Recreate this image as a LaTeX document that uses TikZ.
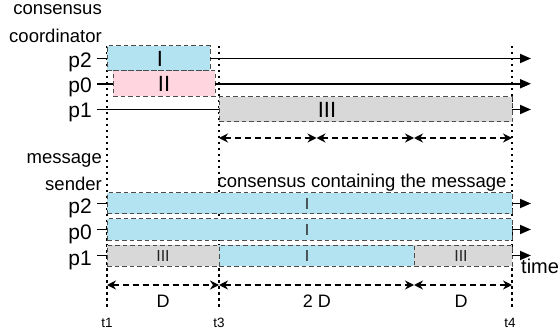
\documentclass[tikz,border=0pt]{standalone}
\usepackage{fontspec}
\setmainfont{Liberation Sans}
\usetikzlibrary{arrows.meta}
\definecolor{cblue}{HTML}{B3E3F1}
\definecolor{cpink}{HTML}{FFD5DF}
\definecolor{cgray}{HTML}{D8D8D8}
\begin{document}
\begin{tikzpicture}[x=1pt,y=-1pt,
  bx/.style={draw=black!70, dash pattern=on 4.5pt off 3pt, line width=1pt, inner sep=0pt, outer sep=0pt, anchor=north west},
  tline/.style={line width=1.8pt, -{Triangle[length=11pt,width=9pt]}},
  plainline/.style={line width=1.8pt},
  dimline/.style={line width=1.6pt, dash pattern=on 6pt off 4pt, {Stealth[length=9pt,width=9pt]}-{Stealth[length=9pt,width=9pt]}},
  tmark/.style={line width=2pt, dash pattern=on 2.5pt off 3.5pt},
  txt/.style={font=\fontsize{18.5}{20}\selectfont, inner sep=0pt},
  plab/.style={font=\fontsize{21}{22}\selectfont, inner sep=0pt, anchor=base east},
  biglab/.style={font=\fontsize{22}{24}\selectfont, inner sep=0pt},
  smalllab/.style={font=\fontsize{16}{16}\selectfont, inner sep=0pt, text=black!85},
  dlab/.style={font=\fontsize{18}{18}\selectfont, inner sep=0pt, anchor=base},
  tlab/.style={font=\fontsize{13.5}{14}\selectfont, inner sep=0pt, anchor=base}
]
\useasboundingbox (0,0) rectangle (560,334);
\coordinate (s) at (97,0);
\coordinate (e) at (531,0);

% time marks (dotted verticals)
\coordinate (t1a) at (107,46); \coordinate (t1b) at (107,308);
\coordinate (t3a) at (219,46); \coordinate (t3b) at (219,308);
\coordinate (t4a) at (512,46); \coordinate (t4b) at (512,308);
\draw[tmark] (t1a) -- (t1b);
\draw[tmark] (t3a) -- (t3b);
\draw[tmark] (t4a) -- (t4b);

% header texts
\node[txt, anchor=base east] (h1) at (102,15) {consensus};
\node[txt, anchor=base east] (h2) at (102,43) {coordinator};
\node[txt, anchor=base east] (h3) at (102,164) {message};
\node[txt, anchor=base east] (h4) at (102,190) {sender};
\node[txt, anchor=base] (h5) at (362,188) {consensus containing the message};

% top section boxes
\node[bx, fill=cblue, minimum width=103pt, minimum height=25pt] (bI) at (107,46) {};
\node[bx, fill=cpink, minimum width=102pt, minimum height=25.5pt] (bII) at (113,71) {};
\node[bx, fill=cgray, minimum width=293pt, minimum height=25pt] (bIII) at (219,97) {};
\node[biglab] (lI) at (160,58.5) {I};
\node[biglab] (lII) at (164,84) {II};
\node[biglab] (lIII) at (327,109.5) {III};

% top section lines
\draw[plainline] (bI.west -| s) -- (bI.west);
\draw[tline] (bI.east) -- (bI.east -| e);
\draw[plainline] (bII.west -| s) -- (bII.west);
\draw[tline] (bII.east) -- (bII.east -| e);
\draw[plainline] (bIII.west -| s) -- (bIII.west);
\draw[tline] (bIII.east) -- (bIII.east -| e);

\node[plab] (p2a) at (92,68) {p2};
\node[plab] (p0a) at (92,92.5) {p0};
\node[plab] (p1a) at (92,117.5) {p1};

% top dimension line
\coordinate (da1) at (219,138); \coordinate (da2) at (316.5,138);
\coordinate (da3) at (414,138); \coordinate (da4) at (512,138);
\draw[dimline] (da1) -- (da2);
\draw[dimline] (da2) -- (da3);
\draw[dimline] (da3) -- (da4);

% bottom section boxes
\node[bx, fill=cblue, minimum width=405pt, minimum height=21pt] (c2) at (107,193) {};
\node[bx, fill=cblue, minimum width=405pt, minimum height=21pt] (c0) at (107,219) {};
\node[bx, fill=cgray, minimum width=112pt, minimum height=21pt] (c1a) at (107,245) {};
\node[bx, fill=cblue, minimum width=195pt, minimum height=21pt] (c1b) at (219,245) {};
\node[bx, fill=cgray, minimum width=98pt, minimum height=21pt] (c1c) at (414,245) {};

\node[smalllab] (m2) at (307,203.5) {I};
\node[smalllab] (m0) at (307,229.5) {I};
\node[smalllab] (m1) at (307,255.5) {I};
\node[smalllab] (m1a) at (163,255.5) {III};
\node[smalllab] (m1c) at (461,255.5) {III};

\draw[plainline] (c2.west -| s) -- (c2.west);
\draw[plainline] (c0.west -| s) -- (c0.west);
\draw[plainline] (c1a.west -| s) -- (c1a.west);
\draw[tline] (c2.east) -- (c2.east -| e);
\draw[tline] (c0.east) -- (c0.east -| e);
\draw[tline] (c1c.east) -- (c1c.east -| e);

\node[plab] (p2b) at (92,214) {p2};
\node[plab] (p0b) at (92,240) {p0};
\node[plab] (p1b) at (92,265.5) {p1};

\node[font=\fontsize{20}{22}\selectfont, inner sep=0pt, anchor=base west] (time) at (521,273) {time};

% bottom dimension line
\coordinate (db1) at (107,285); \coordinate (db2) at (219,285);
\coordinate (db3) at (414,285); \coordinate (db4) at (512,285);
\draw[dimline] (db1) -- (db2);
\draw[dimline] (db2) -- (db3);
\draw[dimline] (db3) -- (db4);

\node[dlab] (D1) at (163,307) {D};
\node[dlab] (D2) at (317,307) {2 D};
\node[dlab] (D3) at (461,307) {D};

\node[tlab] (tt1) at (107,327) {t1};
\node[tlab] (tt3) at (219,327) {t3};
\node[tlab] (tt4) at (510,327) {t4};
\end{tikzpicture}
\end{document}
